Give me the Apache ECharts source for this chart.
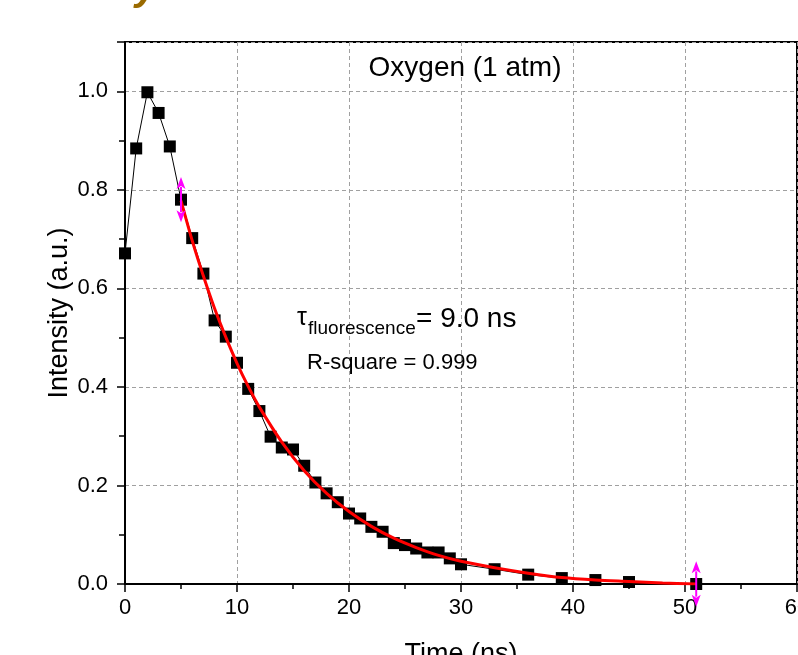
<!DOCTYPE html>
<html>
<head>
<meta charset="utf-8">
<title>Oxygen (1 atm) fluorescence decay</title>
<script src="https://cdn.jsdelivr.net/npm/echarts@6/dist/echarts.min.js"></script>
<style>
  html, body { margin: 0; padding: 0; background: #ffffff; }
  #chart { width: 798px; height: 655px; }
</style>
</head>
<body>
<div id="chart"></div>
<script>
// Measured decay: time (ns) and normalised intensity
const timeNs = [0, 1, 2, 3, 4, 5, 6, 7, 8, 9, 10, 11, 12, 13, 14, 15, 16, 17, 18, 19, 20,
  21, 22, 23, 24, 25, 26, 27, 28, 29, 30, 33, 36, 39, 42, 45, 51];
const intensity = [0.671, 0.884, 0.998, 0.956, 0.888, 0.780, 0.702, 0.630, 0.535, 0.502, 0.449,
  0.396, 0.351, 0.299, 0.277, 0.273, 0.240, 0.206, 0.184, 0.166, 0.143,
  0.133, 0.116, 0.106, 0.083, 0.079, 0.072, 0.064, 0.064, 0.052, 0.040,
  0.030, 0.019, 0.012, 0.008, 0.004, 0.000];

// Exponential fit curve (tau = 9.0 ns), sampled along the fitted range
const fitTime = [5, 6, 7, 8, 9, 10, 11, 12, 14, 16, 18, 20, 22, 24, 26, 28, 30, 33, 36, 39, 42, 45, 48, 51];
const fitIntensity = [0.778, 0.697, 0.625, 0.559, 0.501, 0.448, 0.401, 0.359, 0.288, 0.230, 0.184,
  0.147, 0.117, 0.093, 0.074, 0.058, 0.046, 0.033, 0.022, 0.013, 0.008, 0.005, 0.002, 0.000];

// Fit range markers (start / end of the fitted window)
const fitRangeTime = [5, 51];
const fitRangeIntensity = [0.780, 0.000];

// Tick labels
const xTickLabels = ['0', '10', '20', '30', '40', '50', '60'];
const yTickLabels = ['0.0', '0.2', '0.4', '0.6', '0.8', '1.0'];

const FONT = '"Liberation Sans", Arial, sans-serif';
const ARROW_HALF = 0.046;   // half-height of the range marker, in intensity units

const chart = echarts.init(document.getElementById('chart'), null, { renderer: 'canvas' });

function pickLabel(list, step) {
  return function (v) {
    const i = Math.round(v / step);
    if (Math.abs(v - i * step) > 1e-6 || i < 0 || i >= list.length) return '';
    return list[i];
  };
}

const option = {
  animation: false,
  backgroundColor: '#ffffff',
  grid: {
    left: 125, right: 1, top: 42, bottom: 71,
    outerBoundsMode: 'none', containLabel: false,
    show: true, borderColor: '#000', borderWidth: 2, backgroundColor: 'transparent'
  },
  xAxis: {
    type: 'value', min: 0, max: 60, interval: 10,
    axisLine: { lineStyle: { color: '#000', width: 2 } },
    axisTick: { length: 8, lineStyle: { color: '#000', width: 1.5 } },
    minorTick: { show: true, splitNumber: 2, length: 5, lineStyle: { color: '#000', width: 1.5 } },
    splitLine: { show: true, lineStyle: { color: '#a0a0a0', width: 1, type: [4, 3] } },
    axisLabel: { fontSize: 22, color: '#000', fontFamily: FONT, margin: 13,
      formatter: pickLabel(xTickLabels, 10) },
    name: 'Time (ns)', nameLocation: 'middle', nameGap: 57, nameMoveOverlap: false,
    nameTextStyle: { fontSize: 27, color: '#000', fontFamily: FONT }
  },
  yAxis: {
    type: 'value', min: 0, max: 1.1, interval: 0.2,
    axisLine: { lineStyle: { color: '#000', width: 2 } },
    axisTick: { length: 8, lineStyle: { color: '#000', width: 1.5 } },
    minorTick: { show: true, splitNumber: 2, length: 6, lineStyle: { color: '#000', width: 1.5 } },
    splitLine: { show: true, lineStyle: { color: '#a0a0a0', width: 1, type: [4, 3] } },
    axisLabel: { fontSize: 22, color: '#000', fontFamily: FONT, margin: 17,
      showMaxLabel: false, formatter: pickLabel(yTickLabels, 0.2) },
    name: 'Intensity (a.u.)', nameLocation: 'middle', nameGap: 52, nameMoveOverlap: false,
    nameTextStyle: { fontSize: 27, color: '#000', fontFamily: FONT }
  },
  series: [
    {
      name: 'Intensity',
      type: 'line',
      data: timeNs.map((t, i) => [t, intensity[i]]),
      symbol: 'rect', symbolSize: 12,
      itemStyle: { color: '#000' },
      lineStyle: { color: '#000', width: 1 },
      z: 2
    },
    {
      name: 'Fit',
      type: 'line',
      data: fitTime.map((t, i) => [t, fitIntensity[i]]),
      smooth: 0.3,
      showSymbol: false,
      lineStyle: { color: '#ff0000', width: 3 },
      z: 3
    },
    {
      name: 'Fit range',
      type: 'custom',
      clip: false,
      z: 4,
      data: fitRangeTime.map((t, i) => [t, fitRangeIntensity[i]]),
      renderItem: function (params, api) {
        const t = api.value(0), v = api.value(1);
        const top = api.coord([t, v + ARROW_HALF]);
        const bot = api.coord([t, v - ARROW_HALF]);
        const head = 12, w = 4.5;
        const color = '#ff00ff';
        return {
          type: 'group',
          children: [
            { type: 'line', shape: { x1: top[0], y1: top[1] + head - 2, x2: bot[0], y2: bot[1] - head + 2 },
              style: { stroke: color, lineWidth: 2 } },
            { type: 'polygon', shape: { points: [[top[0], top[1]], [top[0] - w, top[1] + head], [top[0], top[1] + head - 3], [top[0] + w, top[1] + head]] },
              style: { fill: color } },
            { type: 'polygon', shape: { points: [[bot[0], bot[1]], [bot[0] - w, bot[1] - head], [bot[0], bot[1] - head + 3], [bot[0] + w, bot[1] - head]] },
              style: { fill: color } }
          ]
        };
      }
    }
  ],
  graphic: [
    { type: 'text', x: 465, y: 68, z: 10,
      style: { text: 'Oxygen (1 atm)', font: '28px ' + FONT, fill: '#000', textAlign: 'center', textVerticalAlign: 'middle' } },
    { type: 'text', x: 297, y: 318, z: 10,
      style: { text: 'τ', font: '25px ' + FONT, fill: '#000', textAlign: 'left', textVerticalAlign: 'middle' } },
    { type: 'text', x: 308, y: 329, z: 10,
      style: { text: 'fluorescence', font: '19px ' + FONT, fill: '#000', textAlign: 'left', textVerticalAlign: 'middle' } },
    { type: 'text', x: 416, y: 319, z: 10,
      style: { text: '= 9.0 ns', font: '28px ' + FONT, fill: '#000', textAlign: 'left', textVerticalAlign: 'middle' } },
    { type: 'text', x: 307, y: 363, z: 10,
      style: { text: 'R-square = 0.999', font: '22px ' + FONT, fill: '#000', textAlign: 'left', textVerticalAlign: 'middle' } },
    { type: 'text', x: 146, y: -11, z: 10,
      style: { text: 'y', font: 'italic bold 40px ' + FONT, fill: '#9a6a00', textAlign: 'center', textVerticalAlign: 'middle' } }
  ]
};

chart.setOption(option);
</script>
</body>
</html>
